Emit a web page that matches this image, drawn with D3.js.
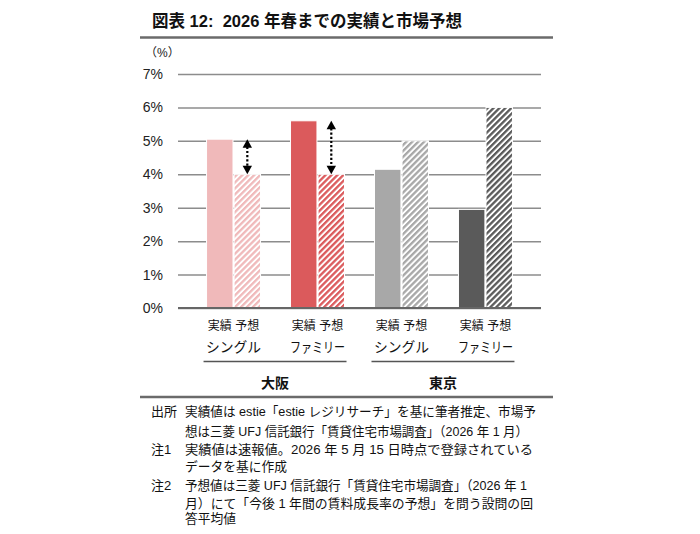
<!DOCTYPE html>
<html>
<head>
<meta charset="utf-8">
<script src="https://cdn.jsdelivr.net/npm/d3@7"></script>
<style>
  body { margin: 0; background: #fff; }
  svg { display: block; }
  text { font-family: 'Liberation Sans', 'Noto Sans CJK JP', sans-serif; }
</style>
</head>
<body>
<svg id="chart" width="700" height="534"></svg>
<script>
const categories = ['大阪シングル', '大阪ファミリー', '東京シングル', '東京ファミリー'];
const typeLabels = ['シングル', 'ファミリー', 'シングル', 'ファミリー'];
const cities = ['大阪', '東京'];
const seriesNames = ['実績', '予想'];
const actual = [5.05, 5.6, 4.15, 2.95];
const forecast = [4.0, 4.0, 5.0, 6.0];
const colors = ['#f0b9ba', '#db5a5c', '#a8a8a8', '#5a5a5a'];
const yTicks = [0, 1, 2, 3, 4, 5, 6, 7];
const notes = [
  ['出所', '実績値は estie「estie レジリサーチ」を基に筆者推定、市場予'],
  ['', '想は三菱 UFJ 信託銀行「賃貸住宅市場調査」（2026 年 1 月）'],
  ['注1', '実績値は速報値。2026 年 5 月 15 日時点で登録されている'],
  ['', 'データを基に作成'],
  ['注2', '予想値は三菱 UFJ 信託銀行「賃貸住宅市場調査」（2026 年 1'],
  ['', '月）にて「今後 1 年間の賃料成長率の予想」を問う設問の回'],
  ['', '答平均値']
];

const svg = d3.select('#chart');
const plotLeft = 178, plotRight = 541, plotTop = 74, plotBottom = 308;

// title
svg.append('text')
  .attr('x', 152).attr('y', 27)
  .style('white-space', 'pre')
  .attr('font-size', 17).attr('font-weight', 'bold').attr('fill', '#111')
  .attr('textLength', 310).attr('lengthAdjust', 'spacingAndGlyphs')
  .text('図表 12:  2026 年春までの実績と市場予想');
svg.append('line')
  .attr('x1', 140).attr('x2', 553).attr('y1', 37.5).attr('y2', 37.5)
  .attr('stroke', '#6b6b6b').attr('stroke-width', 2.5);

const y = d3.scaleLinear().domain([0, 7]).range([plotBottom, plotTop]);
const x = d3.scaleBand().domain(categories)
  .range([plotLeft, plotRight]).paddingInner(0.357).paddingOuter(0.34);
const xs = d3.scaleBand().domain(seriesNames)
  .range([0, x.bandwidth()]).paddingInner(0.04);

// hatch patterns
const defs = svg.append('defs');
colors.forEach((c, i) => {
  const p = defs.append('pattern')
    .attr('id', 'hatch' + i)
    .attr('patternUnits', 'userSpaceOnUse')
    .attr('width', 4.2).attr('height', 4.2)
    .attr('patternTransform', 'rotate(45)');
  p.append('rect').attr('width', 4.2).attr('height', 4.2).attr('fill', '#fff');
  p.append('rect').attr('width', 2.3).attr('height', 4.2).attr('fill', c);
});

// y axis label and grid
svg.append('text').attr('x', 145).attr('y', 57)
  .attr('font-size', 12).attr('fill', '#222').text('（%）');

const yAxis = d3.axisLeft(y).tickValues(yTicks)
  .tickFormat(d => d + '%')
  .tickSize(-(plotRight - plotLeft)).tickPadding(15);
const gy = svg.append('g').attr('transform', `translate(${plotLeft},0)`).call(yAxis);
gy.select('.domain').remove();
gy.selectAll('.tick line').attr('stroke', '#8c8c8c').attr('stroke-width', 1.5);
gy.selectAll('.tick text').attr('font-size', 14).attr('fill', '#222')
  .attr('font-family', "'Liberation Sans', 'Noto Sans CJK JP', sans-serif");

// bars
const g = svg.append('g');
categories.forEach((cat, i) => {
  const vals = [actual[i], forecast[i]];
  seriesNames.forEach((s, j) => {
    g.append('rect')
      .attr('x', x(cat) + xs(s))
      .attr('y', y(vals[j]))
      .attr('width', xs.bandwidth())
      .attr('height', y(0) - y(vals[j]))
      .attr('fill', j === 0 ? colors[i] : `url(#hatch${i})`)
      .attr('stroke', '#fff').attr('stroke-width', 1);
  });
});

// baseline
svg.append('line').attr('x1', plotLeft).attr('x2', plotRight)
  .attr('y1', y(0)).attr('y2', y(0))
  .attr('stroke', '#666').attr('stroke-width', 1.8);

// dotted double arrows for Osaka
[0, 1].forEach(i => {
  const cx = x(categories[i]) + xs('予想') + xs.bandwidth() / 2;
  const y1 = y(actual[i]), y2 = y(forecast[i]);
  const hw = 4.7, hh = 8.5;
  g.append('line')
    .attr('x1', cx).attr('x2', cx).attr('y1', y1 + hh - 1).attr('y2', y2 - hh + 1)
    .attr('stroke', '#000').attr('stroke-width', 2.2).attr('stroke-dasharray', '2.2,2');
  g.append('path')
    .attr('d', `M${cx},${y1}L${cx - hw},${y1 + hh}L${cx + hw},${y1 + hh}Z`).attr('fill', '#000');
  g.append('path')
    .attr('d', `M${cx},${y2}L${cx - hw},${y2 - hh}L${cx + hw},${y2 - hh}Z`).attr('fill', '#000');
});

// x labels
categories.forEach((cat, i) => {
  seriesNames.forEach(s => {
    svg.append('text')
      .attr('x', x(cat) + xs(s) + xs.bandwidth() / 2).attr('y', 329.5)
      .attr('text-anchor', 'middle').attr('font-size', 12).attr('fill', '#111')
      .text(s);
  });
  svg.append('text')
    .attr('x', x(cat) + x.bandwidth() / 2).attr('y', 351.5)
    .attr('text-anchor', 'middle').attr('font-size', 14).attr('fill', '#111')
    .attr('textLength', 55).attr('lengthAdjust', 'spacingAndGlyphs')
    .text(typeLabels[i]);
});
cities.forEach((c, k) => {
  const a = categories[k * 2], b = categories[k * 2 + 1];
  const x1 = x(a) - 3, x2 = x(b) + x.bandwidth() + 2;
  svg.append('line').attr('x1', x1).attr('x2', x2)
    .attr('y1', 361.5).attr('y2', 361.5)
    .attr('stroke', '#555').attr('stroke-width', 1.3);
  svg.append('text').attr('x', (x1 + x2) / 2).attr('y', 387.5)
    .attr('text-anchor', 'middle').attr('font-size', 14).attr('font-weight', 'bold')
    .attr('fill', '#111').text(c);
});

svg.append('line')
  .attr('x1', 140).attr('x2', 553).attr('y1', 397).attr('y2', 397)
  .attr('stroke', '#6b6b6b').attr('stroke-width', 2.5);

// notes
const lineYs = [416, 436, 453.5, 471, 489.5, 507.5, 523];
const lineEnds = [536, 528, 533, 287, 527, 533, 236];
notes.forEach((n, i) => {
  if (n[0]) svg.append('text').attr('x', 151).attr('y', lineYs[i])
    .attr('font-size', 13).attr('fill', '#111').text(n[0]);
  svg.append('text').attr('x', 185).attr('y', lineYs[i])
    .attr('font-size', 13).attr('fill', '#111')
    .attr('textLength', lineEnds[i] - 185).attr('lengthAdjust', 'spacingAndGlyphs')
    .text(n[1]);
});
</script>
</body>
</html>
